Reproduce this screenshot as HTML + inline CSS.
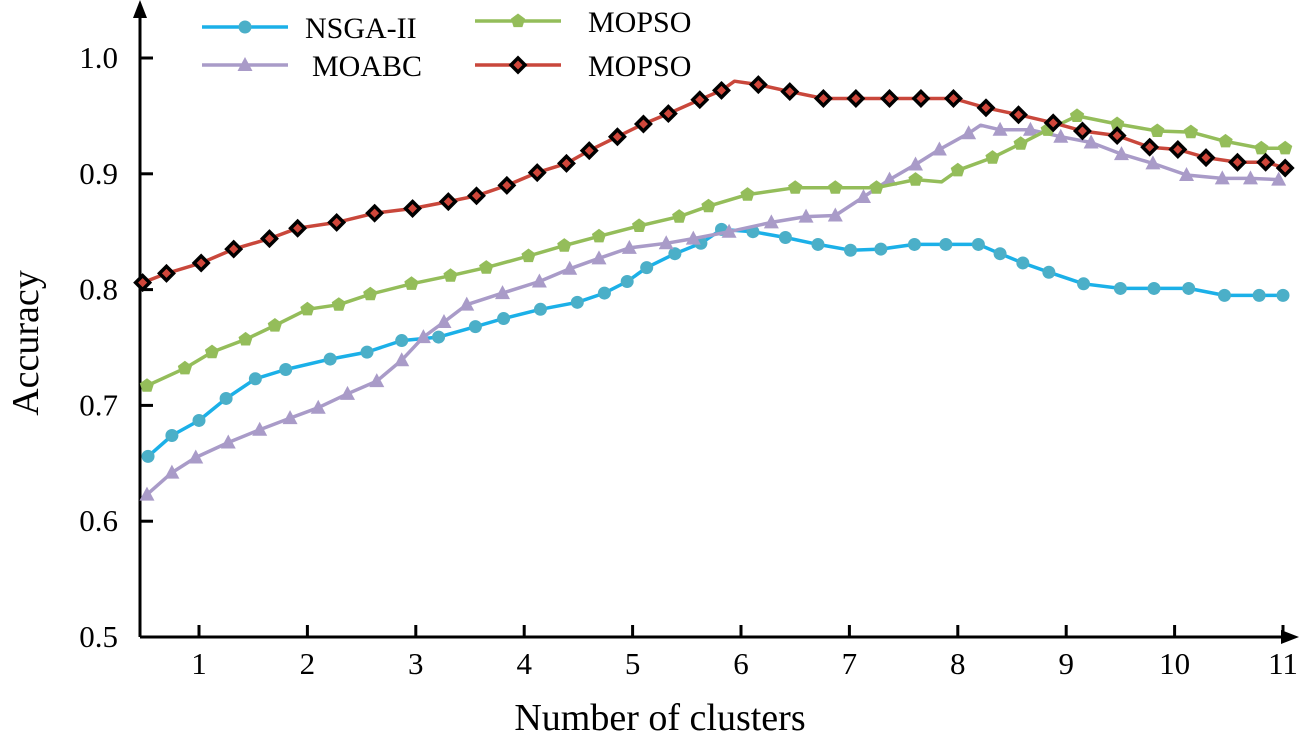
<!DOCTYPE html>
<html><head><meta charset="utf-8"><style>
html,body{margin:0;padding:0;background:#fff;}
svg{display:block;font-family:"Liberation Serif",serif;}
</style></head><body>
<svg id="chart" width="1300" height="742" viewBox="0 0 1300 742" xmlns="http://www.w3.org/2000/svg"></svg>
<script>
const xTicks=[1,2,3,4,5,6,7,8,9,10,11];
const yTicks=[0.5,0.6,0.7,0.8,0.9,1.0];
const yTickLabels=["0.5","0.6","0.7","0.8","0.9","1.0"];
const nsgaX=[0.53,0.75,1.00,1.25,1.52,1.80,2.21,2.55,2.87,3.21,3.55,3.81,4.15,4.49,4.74,4.95,5.13,5.39,5.63,5.82,6.11,6.41,6.71,7.01,7.29,7.60,7.89,8.19,8.39,8.60,8.84,9.16,9.50,9.81,10.13,10.46,10.78,11.00];
const nsgaY=[0.656,0.674,0.687,0.706,0.723,0.731,0.740,0.746,0.756,0.759,0.768,0.775,0.783,0.789,0.797,0.807,0.819,0.831,0.840,0.852,0.850,0.845,0.839,0.834,0.835,0.839,0.839,0.839,0.831,0.823,0.815,0.805,0.801,0.801,0.801,0.795,0.795,0.795];
const moabcX=[0.52,0.75,0.97,1.27,1.56,1.84,2.10,2.37,2.64,2.87,3.07,3.26,3.47,3.80,4.14,4.42,4.69,4.97,5.31,5.56,5.89,6.28,6.60,6.87,7.13,7.37,7.61,7.83,8.10,8.21,8.39,8.67,8.95,9.23,9.51,9.80,10.11,10.44,10.70,10.96];
const moabcY=[0.623,0.642,0.655,0.668,0.679,0.689,0.698,0.710,0.721,0.739,0.759,0.772,0.787,0.797,0.807,0.818,0.827,0.836,0.840,0.844,0.850,0.858,0.863,0.864,0.880,0.895,0.908,0.921,0.935,0.942,0.938,0.938,0.932,0.927,0.917,0.909,0.899,0.896,0.896,0.895];
const moabcNoMark=[29];
const mopsoX=[0.52,0.87,1.12,1.43,1.70,2.00,2.29,2.58,2.96,3.32,3.65,4.04,4.37,4.69,5.06,5.43,5.70,6.06,6.50,6.87,7.25,7.61,7.85,8.00,8.32,8.58,8.83,9.10,9.47,9.84,10.15,10.47,10.80,11.02];
const mopsoY=[0.717,0.732,0.746,0.757,0.769,0.783,0.787,0.796,0.805,0.812,0.819,0.829,0.838,0.846,0.855,0.863,0.872,0.882,0.888,0.888,0.888,0.895,0.893,0.903,0.914,0.926,0.938,0.950,0.943,0.937,0.936,0.928,0.922,0.922];
const mopsoNoMark=[22];
const mopso2X=[0.48,0.70,1.02,1.32,1.65,1.91,2.27,2.62,2.97,3.30,3.56,3.84,4.12,4.39,4.60,4.86,5.10,5.33,5.62,5.82,5.94,6.16,6.45,6.76,7.06,7.37,7.66,7.96,8.26,8.56,8.88,9.15,9.47,9.77,10.03,10.29,10.58,10.84,11.02];
const mopso2Y=[0.806,0.814,0.823,0.835,0.844,0.853,0.858,0.866,0.870,0.876,0.881,0.890,0.901,0.909,0.920,0.932,0.943,0.952,0.964,0.972,0.980,0.977,0.971,0.965,0.965,0.965,0.965,0.965,0.957,0.951,0.944,0.937,0.933,0.923,0.921,0.914,0.910,0.910,0.905];
const mopso2NoMark=[20];

const NS="http://www.w3.org/2000/svg";
const svg=document.getElementById('chart');
function X(v){return 199+(v-1)*108.4;}
function Y(a){return 58+(1-a)*1158;}
function mk(tag,attrs,parent){const e=document.createElementNS(NS,tag);for(const k in attrs)e.setAttribute(k,attrs[k]);(parent||svg).appendChild(e);return e;}

const ax=mk('g',{});


mk('line',{x1:140,y1:637,x2:140,y2:14,stroke:'#000','stroke-width':3},ax);
mk('polygon',{points:'140,0 133,18 147,18',fill:'#000'},ax);
mk('line',{x1:140,y1:637,x2:1285,y2:637,stroke:'#000','stroke-width':3},ax);
mk('polygon',{points:'1299,637 1281,630 1281,644',fill:'#000'},ax);
xTicks.forEach(t=>{
  const tk=mk('line',{x1:X(t),y1:637,x2:X(t),y2:625,stroke:'#000','stroke-width':3},ax);
  
  
  const tl=mk('text',{x:X(t),y:674,'font-size':31,'text-anchor':'middle'},ax);
  tl.textContent=String(t);
  
  
});
yTicks.forEach((t,i)=>{
  if(t>0.5){
    const tk=mk('line',{x1:140,y1:Y(t),x2:153,y2:Y(t),stroke:'#000','stroke-width':3},ax);
    
    
  }
  const tl=mk('text',{x:118,y:Y(t)+10,'font-size':31,'text-anchor':'end'},ax);
  tl.textContent=yTickLabels[i];
  
  
});
const yt=mk('text',{x:0,y:0,'font-size':38,'text-anchor':'middle',transform:'translate(38,343) rotate(-90)'});
yt.textContent='Accuracy';


const xt=mk('text',{x:660,y:730,'font-size':38,'text-anchor':'middle'});
xt.textContent='Number of clusters';



function marker(type,x,y,g){
  if(type==='circle') return mk('circle',{cx:x,cy:y,r:6.5,fill:'#4bafc8'},g);
  if(type==='tri') return mk('polygon',{points:`${x},${y-8} ${x-7.5},${y+6} ${x+7.5},${y+6}`,fill:'#a99bc8'},g);
  if(type==='pent'){let p=[];for(let i=0;i<5;i++){const an=-Math.PI/2+i*2*Math.PI/5;p.push((x+7.5*Math.cos(an)).toFixed(1)+','+(y+7.5*Math.sin(an)).toFixed(1));}return mk('polygon',{points:p.join(' '),fill:'#94bd5a'},g);}
  if(type==='diam') return mk('polygon',{points:`${x},${y-7} ${x+7},${y} ${x},${y+7} ${x-7},${y}`,fill:'#d0473b',stroke:'#000','stroke-width':3.5},g);
}
function series(name,xs,ys,color,type,noMark){
  const g=mk('g',{});
  
  
  const pts=xs.map((v,i)=>X(v).toFixed(1)+','+Y(ys[i]).toFixed(1)).join(' ');
  const pl=mk('polyline',{points:pts,fill:'none',stroke:color,'stroke-width':3.5,'stroke-linejoin':'round'},g);
  
  
  xs.forEach((v,i)=>{
    if(noMark&&noMark.includes(i))return;
    const m=marker(type,X(v),Y(ys[i]),g);
    
    
  });
}
series('nsga-ii-series',nsgaX,nsgaY,'#1bb0e8','circle');
series('moabc-series',moabcX,moabcY,'#a99bc8','tri',moabcNoMark);
series('mopso-green-series',mopsoX,mopsoY,'#94bd5a','pent',mopsoNoMark);
series('mopso-red-series',mopso2X,mopso2Y,'#c9473b','diam',mopso2NoMark);

const lg=mk('g',{});


const entries=[
 {lx:202,ly:27,tx:305,label:'NSGA-II',color:'#1bb0e8',type:'circle'},
 {lx:475,ly:21,tx:588,label:'MOPSO',color:'#94bd5a',type:'pent'},
 {lx:202,ly:65,tx:312,label:'MOABC',color:'#a99bc8',type:'tri'},
 {lx:475,ly:65,tx:588,label:'MOPSO',color:'#c9473b',type:'diam'}
];
entries.forEach(e=>{
  const g=mk('g',{},lg);
  
  
  mk('line',{x1:e.lx,y1:e.ly,x2:e.lx+86,y2:e.ly,stroke:e.color,'stroke-width':3.5},g);
  marker(e.type,e.lx+43,e.ly,g);
  const t=mk('text',{x:e.tx,y:e.ly+11,'font-size':30},g);
  t.textContent=e.label;
});
</script>
</body></html>
